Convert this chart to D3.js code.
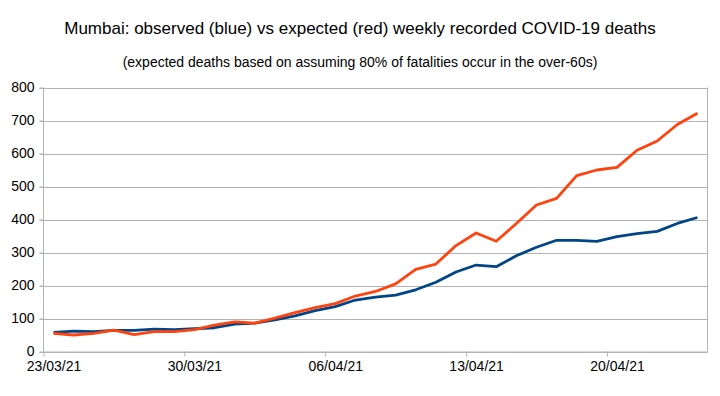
<!DOCTYPE html>
<html lang="en">
<head>
  <meta charset="UTF-8">
  <title>Mumbai observed vs expected COVID-19 deaths</title>
  <script src="https://d3js.org/d3.v7.min.js"></script>
  <style>
    body {
      margin: 0;
      background-color: white;
    }

    svg {
      display: block;
      font-family: "Liberation Sans", Arial, sans-serif;
    }

    .grid line {
      stroke: #b3b3b3;
      stroke-width: 1;
    }

    .axis path, .axis line {
      stroke: #b3b3b3;
      stroke-width: 1;
    }

    .axis text {
      font-size: 14px;
      fill: black;
    }

    .series {
      fill: none;
      stroke-width: 2.8;
      stroke-linejoin: round;
    }
  </style>
</head>
<body>

<script>
  // categories (one per day)
  const dates = [
    "23/03/21", "24/03/21", "25/03/21", "26/03/21", "27/03/21", "28/03/21", "29/03/21",
    "30/03/21", "31/03/21", "01/04/21", "02/04/21", "03/04/21", "04/04/21", "05/04/21",
    "06/04/21", "07/04/21", "08/04/21", "09/04/21", "10/04/21", "11/04/21", "12/04/21",
    "13/04/21", "14/04/21", "15/04/21", "16/04/21", "17/04/21", "18/04/21", "19/04/21",
    "20/04/21", "21/04/21", "22/04/21", "23/04/21", "24/04/21"
  ];

  // observed weekly deaths (blue)
  const observed = [
    58, 62, 60, 64, 64, 68, 66, 69, 72, 83, 86, 96, 108, 124,
    136, 156, 165, 171, 187, 210, 241, 262, 257, 290, 316, 337, 337,
    334, 348, 357, 364, 388, 406
  ];

  // expected weekly deaths (red)
  const expected = [
    55, 50, 55, 65, 51, 60, 60, 66, 80, 90, 86, 101, 118, 133,
    145, 168, 182, 205, 249, 265, 321, 359, 334, 388, 444, 464, 533,
    550, 558, 610, 638, 688, 722
  ];

  const xTickLabels = ["23/03/21", "30/03/21", "06/04/21", "13/04/21", "20/04/21"];
  const yTicks = [0, 100, 200, 300, 400, 500, 600, 700, 800];

  const title = "Mumbai: observed (blue) vs expected (red) weekly recorded COVID-19 deaths";
  const subtitle = "(expected deaths based on assuming 80% of fatalities occur in the over-60s)";

  const width = 720;
  const height = 396;
  const margin = { top: 87.5, right: 12.5, bottom: 44.5, left: 43.5 };

  const parse = d3.timeParse("%d/%m/%y");
  const days = dates.map(parse);

  const svg = d3.select("body").append("svg")
    .attr("width", width)
    .attr("height", height);

  const x = d3.scaleTime()
    .domain([days[0], d3.timeDay.offset(days[days.length - 1], 1)])
    .range([margin.left, width - margin.right]);

  const y = d3.scaleLinear()
    .domain([0, 800])
    .range([height - margin.bottom, margin.top]);

  // points sit in the middle of their day
  const mid = d => d3.timeHour.offset(d, 12);
  const halfDay = x(mid(days[0])) - x(days[0]);

  // titles
  svg.append("text")
    .attr("x", 360).attr("y", 34)
    .attr("text-anchor", "middle")
    .style("font-size", "17px")
    .text(title);

  svg.append("text")
    .attr("x", 360).attr("y", 67)
    .attr("text-anchor", "middle")
    .style("font-size", "14px")
    .text(subtitle);

  // horizontal grid
  svg.append("g").attr("class", "grid")
    .selectAll("line")
    .data(yTicks)
    .join("line")
    .attr("x1", margin.left - 4)
    .attr("x2", width - margin.right)
    .attr("y1", d => Math.round(y(d)) + 0.5)
    .attr("y2", d => Math.round(y(d)) + 0.5);

  // right frame
  svg.append("line")
    .attr("x1", width - margin.right).attr("x2", width - margin.right)
    .attr("y1", margin.top).attr("y2", height - margin.bottom)
    .attr("stroke", "#b3b3b3");

  // y axis
  svg.append("g").attr("class", "axis")
    .attr("transform", `translate(${margin.left},0)`)
    .call(d3.axisLeft(y).tickValues(yTicks).tickSize(4).tickPadding(5))
    .call(g => g.select(".domain").attr("d", `M0,${y(800)}V${y(0)}`));

  // x axis: ticks at day start, labels centred on the day
  svg.append("g").attr("class", "axis")
    .attr("transform", `translate(0,${height - margin.bottom})`)
    .call(d3.axisBottom(x)
      .tickValues(xTickLabels.map(parse))
      .tickFormat(d3.timeFormat("%d/%m/%y"))
      .tickSize(5)
      .tickSizeOuter(0)
      .tickPadding(5))
    .call(g => g.selectAll(".tick text").attr("x", halfDay));

  const line = d3.line()
    .x((d, i) => x(mid(days[i])))
    .y(d => y(d));

  svg.append("path")
    .datum(observed)
    .attr("class", "series")
    .attr("stroke", "#004586")
    .attr("d", line);

  svg.append("path")
    .datum(expected)
    .attr("class", "series")
    .attr("stroke", "#ff420e")
    .attr("d", line);
</script>

</body>
</html>
